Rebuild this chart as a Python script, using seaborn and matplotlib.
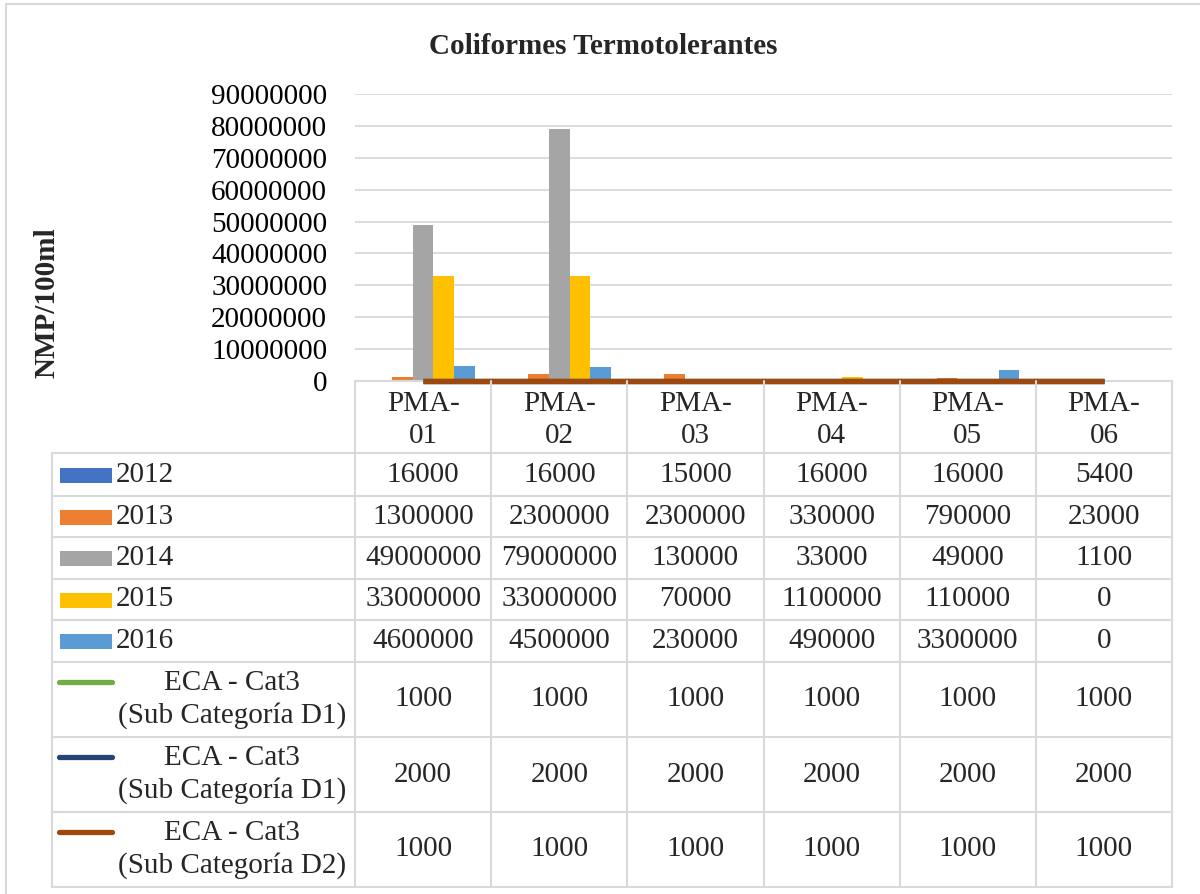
import matplotlib
import matplotlib.pyplot as plt
import matplotlib.transforms as mtransforms
from matplotlib.lines import Line2D
from matplotlib.patches import Rectangle
from matplotlib.ticker import FuncFormatter
import pandas as pd
import seaborn as sns

matplotlib.use("agg")
sns.set_theme(style="white")
plt.rcParams["font.family"] = ["Liberation Serif", "DejaVu Serif"]

sites = ["PMA-01", "PMA-02", "PMA-03", "PMA-04", "PMA-05", "PMA-06"]
years = ["2012", "2013", "2014", "2015", "2016"]
v2012 = [16000, 16000, 15000, 16000, 16000, 5400]
v2013 = [1300000, 2300000, 2300000, 330000, 790000, 23000]
v2014 = [49000000, 79000000, 130000, 33000, 49000, 1100]
v2015 = [33000000, 33000000, 70000, 1100000, 110000, 0]
v2016 = [4600000, 4500000, 230000, 490000, 3300000, 0]
eca_d1_a = [1000, 1000, 1000, 1000, 1000, 1000]
eca_d1_b = [2000, 2000, 2000, 2000, 2000, 2000]
eca_d2 = [1000, 1000, 1000, 1000, 1000, 1000]
eca_label = "ECA - Cat3\n(Sub Categoría {})"
y_ticks = [0, 10000000, 20000000, 30000000, 40000000, 50000000, 60000000, 70000000, 80000000, 90000000]

bar_colors = ["#4472C4", "#ED7D31", "#A5A5A5", "#FFC000", "#5B9BD5"]
line_colors = ["#70AD47", "#264478", "#9E480E"]
grid_c = "#D9D9D9"
FS = 21

bars = [v2012, v2013, v2014, v2015, v2016]
df = pd.DataFrame(
    [(s, y, vals[i]) for y, vals in zip(years, bars) for i, s in enumerate(sites)],
    columns=["site", "year", "value"],
)

W, H = 1200, 894
fig = plt.figure(figsize=(W / 100, H / 100), dpi=100)
ax = fig.add_axes([355 / W, 1 - 381 / H, (1172 - 355) / W, (381 - 94) / H])

sns.barplot(data=df, x="site", y="value", hue="year", order=sites, hue_order=years,
            palette=bar_colors, saturation=1, width=0.76, legend=False, ax=ax)
for p in ax.patches:
    p.set_edgecolor("none")

lines = [eca_d1_a, eca_d1_b, eca_d2]
for vals, c in zip(lines, line_colors):
    sns.lineplot(x=list(range(len(sites))), y=vals, color=c, linewidth=3.8, ax=ax,
                 clip_on=False, zorder=5, solid_capstyle="butt")

ax.set_xlim(-0.5, 5.5)
ax.set_ylim(0, 90000000)
ax.set_yticks(y_ticks)
ax.yaxis.set_major_formatter(FuncFormatter(lambda v, p: f"{int(v)}"))
ax.tick_params(axis="y", length=0, pad=20, labelsize=FS, colors="black")
ax.tick_params(axis="x", length=0, labelbottom=False)
ax.set_xlabel("")
ax.set_ylabel("")
ax.grid(axis="y", color=grid_c, linewidth=1.3)
ax.set_axisbelow(True)
for s in ["top", "right", "left"]:
    ax.spines[s].set_visible(False)
ax.spines["bottom"].set_color(grid_c)
ax.spines["bottom"].set_linewidth(1.5)

fig.text(603 / W, 1 - 47 / H, "Coliformes Termotolerantes", ha="center", va="center",
         fontsize=FS, fontweight="bold")
fig.text(47 / W, 1 - 303 / H, "NMP/100ml", ha="center", va="center", rotation=90,
         fontsize=FS, fontweight="bold")

# data table under the axis
tr = mtransforms.blended_transform_factory(ax.transData, fig.transFigure)


def fy(py):
    return 1 - py / H


rows = [453, 496, 537, 579, 620, 662, 737, 812, 887]
left_x = 52 / W

# header row
for i, s in enumerate(sites):
    a, b = s.split("-")
    fig.text(i, fy(420), a + "-\n" + b, transform=tr, ha="center", va="center",
             fontsize=FS, linespacing=1.3)
for i in range(len(sites) + 1):
    fig.add_artist(Line2D([i - 0.5, i - 0.5], [fy(381), fy(rows[-1])], transform=tr,
                          color=grid_c, linewidth=1.5))
for r in rows:
    fig.add_artist(Line2D([left_x, 1172 / W], [fy(r), fy(r)], transform=fig.transFigure,
                          color=grid_c, linewidth=1.5))
fig.add_artist(Line2D([left_x, left_x], [fy(rows[0]), fy(rows[-1])], transform=fig.transFigure,
                      color=grid_c, linewidth=1.5))

row_vals = bars + lines
for k, vals in enumerate(row_vals):
    yc = (rows[k] + rows[k + 1]) / 2
    for i, v in enumerate(vals):
        fig.text(i, fy(yc), str(v), transform=tr, ha="center", va="center", fontsize=FS)
    if k < len(years):
        fig.add_artist(Rectangle((60 / W, fy(yc + 8)), 52 / W, 15 / H, transform=fig.transFigure,
                                 facecolor=bar_colors[k], edgecolor="none"))
        fig.text(116 / W, fy(yc), years[k], ha="left", va="center", fontsize=FS)
    else:
        j = k - len(years)
        fig.add_artist(Line2D([59 / W, 112 / W], [fy(rows[k] + 20), fy(rows[k] + 20)],
                              transform=fig.transFigure, color=line_colors[j], linewidth=3.8,
                              solid_capstyle="round"))
        fig.text(232 / W, fy(yc), eca_label.format("D2" if j == 2 else "D1"), ha="center",
                 va="center", fontsize=FS, linespacing=1.25)

# chart frame (right and bottom edges fall outside the picture)
fig.add_artist(Rectangle((6 / W, -10 / H), 1200 / W, 900 / H, transform=fig.transFigure,
                         fill=False, edgecolor=grid_c, linewidth=1.5))

fig.savefig("out.png", dpi=100)
plt.close(fig)
